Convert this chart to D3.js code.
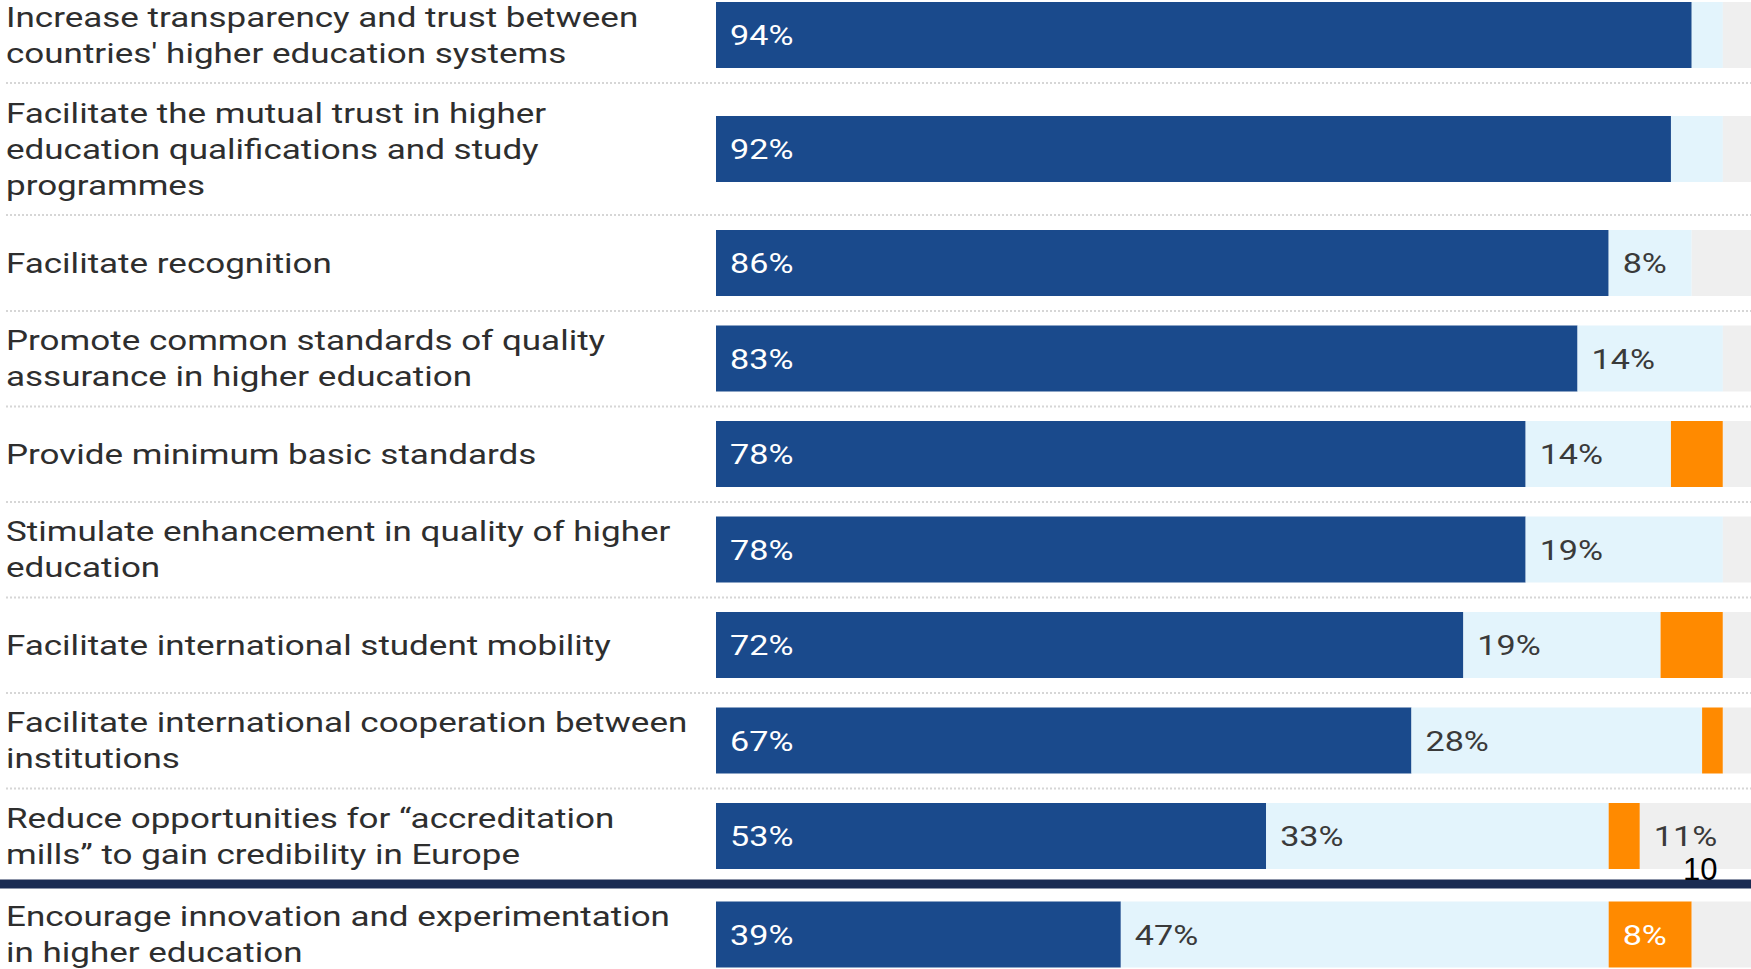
<!DOCTYPE html>
<html>
<head>
<meta charset="utf-8">
<script src="https://cdn.jsdelivr.net/npm/d3@7"></script>
<style>
  html, body { margin: 0; padding: 0; background: #ffffff; overflow: hidden; }
  svg { display: block; }
</style>
</head>
<body>
<svg id="chart" width="1751" height="969"></svg>
<script>
// ---- data ----
const categories = [
  "Increase transparency and trust between\ncountries' higher education systems",
  "Facilitate the mutual trust in higher\neducation qualifications and study\nprogrammes",
  "Facilitate recognition",
  "Promote common standards of quality\nassurance in higher education",
  "Provide minimum basic standards",
  "Stimulate enhancement in quality of higher\neducation",
  "Facilitate international student mobility",
  "Facilitate international cooperation between\ninstitutions",
  "Reduce opportunities for \u201caccreditation\nmills\u201d to gain credibility in Europe",
  "Encourage innovation and experimentation\nin higher education"
];
const seriesNames = ["agree", "partly", "disagree", "dontknow"];
const agree    = [94, 92, 86, 83, 78, 78, 72, 67, 53, 39];
const partly   = [3, 5, 8, 14, 14, 19, 19, 28, 33, 47];
const disagree = [0, 0, 0, 0, 5, 0, 6, 2, 3, 8];
const dontknow = [3, 3, 6, 3, 3, 3, 3, 3, 11, 6];
const pageNumber = "10";

// ---- styles ----
const colors = { agree: "#1a4a8c", partly: "#e3f4fc", disagree: "#ff8a00", dontknow: "#efefef" };
const labelColors = { agree: "#ffffff", partly: "#3a3a3a", disagree: "#ffffff", dontknow: "#3a3a3a" };
const stretchCat = 1.25;   // horizontal stretch of the text in the reference
const stretchVal = 1.22;
const fontSize = 28;
const lineH = 36;
const barH = 66;
const labelX = 6;
const separatorAfter = 8;  // thick line after this row index

const svg = d3.select("#chart");
const W = 1751;

// rows with variable height based on label line count
const rows = categories.map((c, i) => {
  const lines = c.split("\n");
  return {
    i, lines,
    h: Math.max(2, lines.length) * lineH + 24,
    values: { agree: agree[i], partly: partly[i], disagree: disagree[i], dontknow: dontknow[i] }
  };
});
let acc = -13;
rows.forEach((r, i) => {
  r.top = acc; acc += r.h;
  r.center = r.top + r.h / 2 + (i > separatorAfter ? 3 : 0);
  r.bottom = r.top + r.h;
});
rows.forEach((r, i) => { if (i > 2) { r.top -= 0.5 * (i - 2); r.center -= 0.5 * (i - 2); r.bottom -= 0.5 * (i - 2); } });

const x = d3.scaleLinear().domain([0, 100]).range([716, 1754]);

const stack = d3.stack().keys(seriesNames)(rows.map(r => r.values));

// separators
const g = svg.append("g");
rows.forEach((r, i) => {
  if (i === rows.length - 1) return;
  const yb = r.bottom;
  if (i === separatorAfter) {
    g.append("rect").attr("x", 0).attr("y", yb - 4.5).attr("width", W).attr("height", 9)
      .attr("fill", "#1a2b52");
  } else {
    g.append("line").attr("x1", labelX).attr("x2", W).attr("y1", yb).attr("y2", yb)
      .attr("stroke", "#d6d6d6").attr("stroke-width", 2).attr("stroke-dasharray", "2,2");
  }
});

// bars
stack.forEach(layer => {
  const key = layer.key;
  const lg = svg.append("g").attr("class", "series-" + key);
  layer.forEach((d, i) => {
    const r = rows[i];
    const w = x(d[1]) - x(d[0]);
    if (w <= 0) return;
    lg.append("rect")
      .attr("x", x(d[0])).attr("y", r.center - barH / 2)
      .attr("width", w).attr("height", barH)
      .attr("fill", colors[key]);
    const v = d[1] - d[0];
    if (v >= 8) {
      lg.append("text")
        .attr("transform", `translate(${x(d[0]) + 14},${r.center + 10}) scale(${stretchVal},1)`)
        .attr("font-family", "Roboto, sans-serif")
        .attr("font-size", fontSize)
        .attr("fill", labelColors[key])
        .text(v + "%");
    }
  });
});

// category labels
rows.forEach(r => {
  const n = r.lines.length;
  r.lines.forEach((ln, k) => {
    const y = r.center + 9.5 - (n - 1) * lineH / 2 + k * lineH;
    svg.append("text")
      .attr("transform", `translate(${labelX},${y}) scale(${stretchCat},1)`)
      .attr("font-family", "Roboto, sans-serif")
      .attr("font-size", fontSize)
      .attr("fill", "#2e2e2e")
      .text(ln);
  });
});

// page number overlay
svg.append("text")
  .attr("x", 1683).attr("y", 880)
  .attr("font-family", "Liberation Sans, Arial, sans-serif")
  .attr("font-size", 31)
  .attr("fill", "#000")
  .text(pageNumber);
</script>
</body>
</html>
